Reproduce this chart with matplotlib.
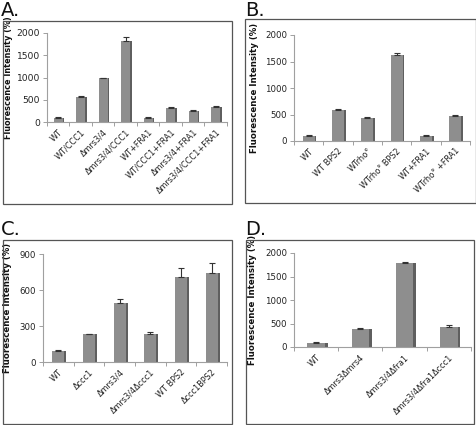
import matplotlib
matplotlib.use("Agg")
import matplotlib.pyplot as plt
from matplotlib.patches import Rectangle
import numpy as np

plt.rcParams['font.family'] = ['DejaVu Sans']

# ---------------- data ----------------
A_labels = ["WT", "WT/CCC1", "Δmrs3/4", "Δmrs3/4/CCC1", "WT+FRA1",
            "WT/CCC1+FRA1", "Δmrs3/4+FRA1", "Δmrs3/4/CCC1+FRA1"]
A_values = [100, 570, 990, 1820, 100, 320, 250, 340]
A_errors = [10, 15, 8, 85, 10, 15, 12, 15]

B_labels = ["WT", "WT BPS2", "WTrho°", "WTrho° BPS2", "WT+FRA1", "WTrho° +FRA1"]
B_values = [100, 580, 440, 1630, 100, 480]
B_errors = [8, 25, 10, 30, 8, 15]

C_labels = ["WT", "Δccc1", "Δmrs3/4", "Δmrs3/4Δccc1", "WT BPS2", "Δccc1BPS2"]
C_values = [95, 230, 490, 235, 710, 745]
C_errors = [4, 5, 32, 15, 70, 80]

D_labels = ["WT", "Δmrs3Δmrs4", "Δmrs3/4Δfra1", "Δmrs3/4Δfra1Δccc1"]
D_values = [90, 390, 1790, 430]
D_errors = [8, 15, 20, 40]

A_ticks = [0, 500, 1000, 1500, 2000]
B_ticks = [0, 500, 1000, 1500, 2000]
C_ticks = [0, 300, 600, 900]
D_ticks = [0, 500, 1000, 1500, 2000]

W, H = 477, 425
fig = plt.figure(figsize=(W / 100, H / 100), dpi=100)
fig.patch.set_facecolor("white")

def px_axes(left, right, bottom, top):
    return fig.add_axes([left / W, 1 - bottom / H, (right - left) / W, (bottom - top) / H])

def box(x0, x1, y0, y1):
    fig.patches.append(Rectangle((x0 / W, 1 - y1 / H), (x1 - x0) / W, (y1 - y0) / H,
                                 transform=fig.transFigure, fill=False,
                                 edgecolor="#555555", linewidth=0.9))

def panel(ax, labels, values, errors, ticks, ylabel_x, tfs=6.2, xfs=5.9, lfs=6.2):
    n = len(labels)
    x = np.arange(n)
    # shadow (3D look)
    ax.bar(x + 0.06, values, width=0.4, color="#5f5f5f", zorder=2)
    ax.bar(x, values, width=0.4, color="#8e8e8e", zorder=3)
    ax.errorbar(x, values, yerr=[np.zeros(n), errors], fmt="none",
                ecolor="#333333", elinewidth=0.8, capsize=2.5, capthick=0.8, zorder=4)
    ax.set_xlim(-0.5, n - 0.5)
    ax.set_ylim(ticks[0], ticks[-1])
    ax.set_yticks(ticks)
    ax.set_yticklabels([str(t) for t in ticks], fontsize=tfs, color="#222222")
    ax.set_xticks(x)
    ax.set_xticklabels(labels, rotation=45, ha="right", rotation_mode="anchor",
                       fontsize=xfs, color="#222222")
    ax.tick_params(axis="x", which="major", length=0, pad=4)
    ax.set_xticks(np.arange(n + 1) - 0.5, minor=True)
    ax.tick_params(axis="x", which="minor", length=3, color="#a0a0a0", width=0.7)
    ax.tick_params(axis="y", length=3, color="#a0a0a0", width=0.7, pad=2)
    for s in ("top", "right"):
        ax.spines[s].set_visible(False)
    for s in ("left", "bottom"):
        ax.spines[s].set_color("#a0a0a0")
        ax.spines[s].set_linewidth(0.8)
    ax.set_facecolor("none")
    ax.set_ylabel("Fluorescence Intensity (%)", fontsize=lfs, fontweight="bold", color="#111111")
    ax.yaxis.set_label_coords(ylabel_x, 0.5)

# Panel A
box(3, 232, 21, 204)
fig.text(1 / W, 1 - 1 / H, "A.", fontsize=14, va="top", ha="left", color="#111111")
axA = px_axes(47, 227, 122, 33)
panel(axA, A_labels, A_values, A_errors, A_ticks, -0.19, tfs=6.6, xfs=5.9, lfs=5.9)

# Panel B
box(245, 476, 19, 203)
fig.text(245 / W, 1 - 1 / H, "B.", fontsize=14, va="top", ha="left", color="#111111")
axB = px_axes(294, 470, 141, 35)
panel(axB, B_labels, B_values, B_errors, B_ticks, -0.2)

# Panel C
box(3, 232, 240, 424)
fig.text(1 / W, 1 - 220 / H, "C.", fontsize=14, va="top", ha="left", color="#111111")
axC = px_axes(43, 227, 362, 254)
panel(axC, C_labels, C_values, C_errors, C_ticks, -0.17)

# Panel D
box(246, 474, 240, 424)
fig.text(245 / W, 1 - 220 / H, "D.", fontsize=14, va="top", ha="left", color="#111111")
axD = px_axes(294, 471, 347, 253)
panel(axD, D_labels, D_values, D_errors, D_ticks, -0.21)

fig.savefig("out.png", dpi=100)
